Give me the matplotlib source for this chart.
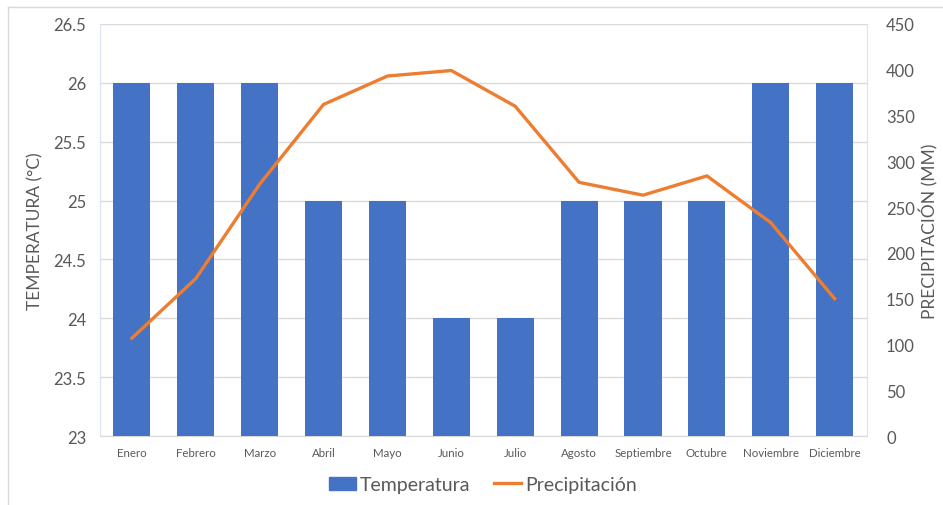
import matplotlib
matplotlib.use("Agg")
import matplotlib.pyplot as plt
from matplotlib.lines import Line2D

months = ["Enero", "Febrero", "Marzo", "Abril", "Mayo", "Junio", "Julio",
          "Agosto", "Septiembre", "Octubre", "Noviembre", "Diciembre"]
temperatura = [26, 26, 26, 25, 25, 24, 24, 25, 25, 25, 26, 26]
precipitacion = [107, 172, 275, 362, 393, 399, 360, 277, 263, 284, 233, 150]
left_ticks = [23, 23.5, 24, 24.5, 25, 25.5, 26, 26.5]
left_labels = ["23", "23.5", "24", "24.5", "25", "25.5", "26", "26.5"]
right_ticks = [0, 50, 100, 150, 200, 250, 300, 350, 400, 450]

plt.rcParams['font.family'] = ['Lato', 'DejaVu Sans']
txt = "#595959"
bar_c = "#4472C4"
line_c = "#ED7D31"

fig = plt.figure(figsize=(9.43, 5.06), dpi=100)
ax = fig.add_axes([0.106, 0.136, 0.813, 0.815])
x = list(range(len(months)))
ax.bar(x, temperatura, width=0.58, color=bar_c, zorder=3, label="Temperatura")
ax.set_ylim(23, 26.5)
ax.set_xlim(-0.5, len(months) - 0.5)
ax.set_yticks(left_ticks)
ax.set_yticklabels(left_labels)
ax.set_xticks(x)
ax.set_xticklabels(months, fontsize=8.3, color=txt)
ax.tick_params(axis='y', labelsize=12, colors=txt, length=0, pad=10)
ax.tick_params(axis='x', length=0, pad=8)
ax.grid(axis='y', color="#D9D9D9", linewidth=1, zorder=0)
ax.set_ylabel("TEMPERATURA (°C)", fontsize=12.5, color=txt, labelpad=7)
for s in ["top", "right"]:
    ax.spines[s].set_visible(False)
ax.spines["left"].set_color("#DAE3F3")
ax.spines["bottom"].set_color("#D9D9D9")

ax2 = ax.twinx()
ax2.plot(x, precipitacion, color=line_c, linewidth=2.4, zorder=4, label="Precipitación")
ax2.set_ylim(0, 450)
ax2.set_yticks(right_ticks)
ax2.tick_params(axis='y', labelsize=12, colors=txt, length=0, pad=14)
ax2.set_ylabel("PRECIPITACIÓN (MM)", fontsize=12.5, color=txt, labelpad=3)
for s in ["top", "left", "bottom"]:
    ax2.spines[s].set_visible(False)
ax2.spines["right"].set_color("#DAE3F3")

handles = [plt.Rectangle((0, 0), 1, 1, color=bar_c),
           Line2D([0], [0], color=line_c, linewidth=2.4)]
leg = fig.legend(handles, ["Temperatura", "Precipitación"], loc="center",
                 bbox_to_anchor=(0.512, 0.04), ncol=2, frameon=False,
                 fontsize=14, handlelength=1.4, columnspacing=1.2,
                 handletextpad=0.2)
for t in leg.get_texts():
    t.set_color(txt)

fig.add_artist(Line2D([0.0085, 1.0], [0.984, 0.984], color="#D9D9D9", linewidth=1, transform=fig.transFigure))
fig.add_artist(Line2D([0.0085, 0.0085], [0.0, 0.984], color="#D9D9D9", linewidth=1, transform=fig.transFigure))

fig.savefig("out.png", dpi=100, facecolor="white")
